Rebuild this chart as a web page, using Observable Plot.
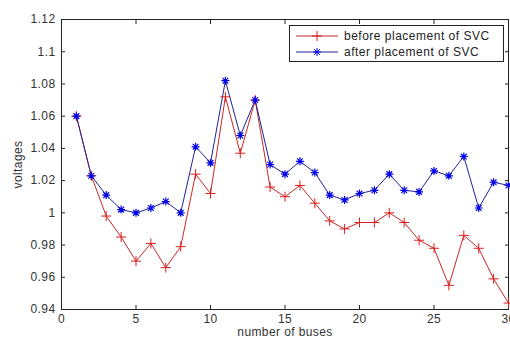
<!DOCTYPE html>
<html>
<head>
<meta charset="utf-8">
<script src="https://cdn.jsdelivr.net/npm/d3@7"></script>
<script src="https://cdn.jsdelivr.net/npm/@observablehq/plot@0.6"></script>
<style>
  html, body { margin: 0; padding: 0; background: #fff; }
  #wrap { position: relative; width: 510px; height: 338px; overflow: hidden; font-family: "Liberation Sans", Arial, sans-serif; }
  #legend { position: absolute; left: 289px; top: 25px; width: 213px; height: 35px; border: 1px solid #222; background: #fff; font-size: 12px; letter-spacing: 0.5px; color: #222; }
  #legend .row { position: absolute; left: 0; height: 16px; display: flex; align-items: center; }
  #legend svg { display: block; }
  #legend span { margin-left: 6px; }
  #wrap svg text { letter-spacing: 0.4px; }
</style>
</head>
<body>
<div id="wrap"></div>
<script>
const buses = [1,2,3,4,5,6,7,8,9,10,11,12,13,14,15,16,17,18,19,20,21,22,23,24,25,26,27,28,29,30];
const before = [1.060,1.023,0.998,0.985,0.970,0.981,0.966,0.979,1.024,1.012,1.072,1.037,1.070,1.016,1.010,1.017,1.006,0.995,0.990,0.994,0.994,1.000,0.994,0.983,0.978,0.955,0.986,0.978,0.959,0.944];
const after  = [1.060,1.023,1.011,1.002,1.000,1.003,1.007,1.000,1.041,1.031,1.082,1.048,1.070,1.030,1.024,1.032,1.025,1.011,1.008,1.012,1.014,1.024,1.014,1.013,1.026,1.023,1.035,1.003,1.019,1.017];
const seriesNames = ["before placement of SVC", "after placement of SVC"];
const xTicks = [0,5,10,15,20,25,30];
const yTicks = [0.94,0.96,0.98,1.00,1.02,1.04,1.06,1.08,1.10,1.12];

const redLine = "#c82828", redMark = "#dd1c1c";
const blueLine = "#22229a", blueMark = "#0000e6";

const plusSym = { draw(ctx, size) { const r = Math.sqrt(size / Math.PI);
  ctx.moveTo(-r, 0); ctx.lineTo(r, 0); ctx.moveTo(0, -r); ctx.lineTo(0, r); } };
const starSym = { draw(ctx, size) { const r = Math.sqrt(size / Math.PI), d = r * 0.72;
  ctx.moveTo(-r, 0); ctx.lineTo(r, 0); ctx.moveTo(0, -r); ctx.lineTo(0, r);
  ctx.moveTo(-d, -d); ctx.lineTo(d, d); ctx.moveTo(-d, d); ctx.lineTo(d, -d); } };

const rowsB = buses.map((b, i) => ({bus: b, v: before[i]}));
const rowsA = buses.map((b, i) => ({bus: b, v: after[i]}));
const fmt = d => String(+d.toFixed(2));

const chart = Plot.plot({
  width: 510, height: 338,
  marginLeft: 61, marginRight: 2, marginTop: 19, marginBottom: 29,
  style: { fontFamily: "Liberation Sans, Arial, sans-serif", fontSize: "12px", color: "#333", background: "#fff" },
  x: { domain: [0, 30] },
  y: { domain: [0.94, 1.12] },
  marks: [
    Plot.frame({ stroke: "#222" }),
    Plot.axisX(xTicks, { anchor: "bottom", tickSize: 0, tickPadding: 5, tickFormat: d => d, label: "number of buses", labelAnchor: "center", labelArrow: "none", labelOffset: 26, fill: "#333" }),
    Plot.axisX(xTicks, { anchor: "bottom", tickSize: -4, text: null, label: null, stroke: "#222" }),
    Plot.axisX(xTicks, { anchor: "top", tickSize: -4, text: null, label: null, stroke: "#222" }),
    Plot.axisY(yTicks, { anchor: "left", tickSize: 0, tickPadding: 6, tickFormat: fmt, label: "voltages", labelAnchor: "center", labelOffset: 48, labelArrow: "none", fill: "#333" }),
    Plot.axisY(yTicks, { anchor: "left", tickSize: -4, text: null, label: null, stroke: "#222" }),
    Plot.axisY(yTicks, { anchor: "right", tickSize: -4, text: null, label: null, stroke: "#222" }),
    Plot.line(rowsB, { x: "bus", y: "v", stroke: redLine, strokeWidth: 1 }),
    Plot.line(rowsA, { x: "bus", y: "v", stroke: blueLine, strokeWidth: 1 }),
    Plot.dot(rowsB, { x: "bus", y: "v", symbol: plusSym, r: 5, stroke: redMark, fill: "none", strokeWidth: 1 }),
    Plot.dot(rowsA, { x: "bus", y: "v", symbol: starSym, r: 4, stroke: blueMark, fill: "none", strokeWidth: 1.2 })
  ]
});

const wrap = document.getElementById("wrap");
wrap.appendChild(chart);

// legend
const legend = document.createElement("div");
legend.id = "legend";
const items = [
  { name: seriesNames[0], line: redLine, mark: redMark, sym: "plus" },
  { name: seriesNames[1], line: blueLine, mark: blueMark, sym: "star" }
];
items.forEach((it, i) => {
  const row = document.createElement("div");
  row.className = "row";
  row.style.top = (2 + i * 16) + "px";
  const ns = "http://www.w3.org/2000/svg";
  const s = document.createElementNS(ns, "svg");
  s.setAttribute("width", 48); s.setAttribute("height", 16);
  const l = document.createElementNS(ns, "line");
  l.setAttribute("x1", 6); l.setAttribute("x2", 48); l.setAttribute("y1", 8); l.setAttribute("y2", 8);
  l.setAttribute("stroke", it.line);
  s.appendChild(l);
  const p = document.createElementNS(ns, "path");
  const r = it.sym === "plus" ? 5 : 4, c = 27, d = r * 0.72;
  p.setAttribute("d", it.sym === "plus"
    ? `M${c-r},8H${c+r}M${c},${8-r}V${8+r}`
    : `M${c-r},8H${c+r}M${c},${8-r}V${8+r}M${c-d},${8-d}L${c+d},${8+d}M${c-d},${8+d}L${c+d},${8-d}`);
  p.setAttribute("stroke", it.mark); p.setAttribute("fill", "none");
  s.appendChild(p);
  row.appendChild(s);
  const t = document.createElement("span");
  t.textContent = it.name;
  row.appendChild(t);
  legend.appendChild(row);
});
wrap.appendChild(legend);
</script>
</body>
</html>
